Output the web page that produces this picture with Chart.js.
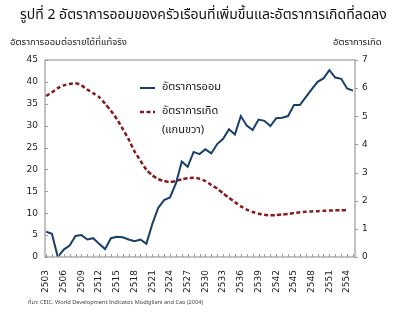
<!DOCTYPE html>
<html>
<head>
<meta charset="utf-8">
<script src="https://cdn.jsdelivr.net/npm/chart.js@4.4.0/dist/chart.umd.min.js"></script>
<style>
  body { margin: 0; background: #fff; font-family: "Noto Sans Thai", Tahoma, "DejaVu Sans", sans-serif; }
  #wrap { position: relative; width: 411px; height: 332px; overflow: hidden; }
  #title { position: absolute; left: 20px; top: 4px; font-size: 14px; color: #111; white-space: nowrap; }
  .cap { position: absolute; top: 35px; font-size: 9.5px; color: #222; white-space: nowrap; }
  #source { position: absolute; left: 28px; top: 298px; font-size: 5.6px; color: #444; white-space: nowrap; }
  canvas { position: absolute; left: 0; top: 0; }
</style>
</head>
<body>
<div id="wrap">
  <canvas id="savingBox" width="411" height="332"></canvas>
  <div id="title">รูปที่ 2 อัตราการออมของครัวเรือนที่เพิ่มขึ้นและอัตราการเกิดที่ลดลง</div>
  <div class="cap" style="left:10px">อัตราการออมต่อรายได้ที่แท้จริง</div>
  <div class="cap" style="left:333px">อัตราการเกิด</div>
  <div id="source">ที่มา: CEIC, World Development Indicator, Modigliani and Cao (2004)</div>
</div>
<script>
var years = [2503, 2504, 2505, 2506, 2507, 2508, 2509, 2510, 2511, 2512,
  2513, 2514, 2515, 2516, 2517, 2518, 2519, 2520, 2521, 2522,
  2523, 2524, 2525, 2526, 2527, 2528, 2529, 2530, 2531, 2532,
  2533, 2534, 2535, 2536, 2537, 2538, 2539, 2540, 2541, 2542,
  2543, 2544, 2545, 2546, 2547, 2548, 2549, 2550, 2551, 2552,
  2553, 2554, 2555];

// อัตราการออมต่อรายได้ (แกนซ้าย)
var saving = [5.8, 5.3, 0, 1.7, 2.6, 4.8, 5.0, 4.0, 4.3, 3.0,
  1.8, 4.3, 4.6, 4.5, 4.0, 3.6, 4.0, 3.0, 7.5, 11.2,
  13.0, 13.6, 16.8, 21.8, 20.6, 24.0, 23.5, 24.6, 23.7, 25.8,
  27.0, 29.2, 28.0, 32.2, 30.0, 29.0, 31.4, 31.1, 29.9, 31.7,
  31.8, 32.2, 34.7, 34.7, 36.5, 38.3, 40.0, 40.8, 42.7, 41.0,
  40.7, 38.5, 38.0];

// อัตราการเกิด (แกนขวา)
var birth = [5.72, 5.85, 6.0, 6.1, 6.15, 6.17, 6.1, 5.95, 5.82, 5.68,
  5.45, 5.2, 4.9, 4.55, 4.18, 3.75, 3.42, 3.1, 2.9, 2.77,
  2.7, 2.66, 2.7, 2.76, 2.8, 2.82, 2.78, 2.7, 2.56, 2.43,
  2.26, 2.1, 1.95, 1.8, 1.68, 1.6, 1.54, 1.5, 1.48, 1.49,
  1.51, 1.53, 1.56, 1.59, 1.61, 1.62, 1.63, 1.64, 1.65, 1.66,
  1.66, 1.67, null];

var legendNames = ['อัตราการออม', 'อัตราการเกิด', '(แกนขวา)'];

var leftTicks = { min: 0, max: 45, step: 5 };
var rightTicks = { min: 0, max: 7, step: 1 };
var yearLabelEvery = 3;

var thaiFont = '"Noto Sans Thai", Tahoma, "DejaVu Sans", sans-serif';
var tickFont = { family: 'DejaVu Sans', size: 9 };

// กรอบพื้นที่กราฟ + ขีดสเกลเล็กๆ
var framePlugin = {
  id: 'frame',
  afterDatasetsDraw: function(chart) {
    var c = chart.ctx, a = chart.chartArea;
    var x = chart.scales.x, yl = chart.scales.y, yr = chart.scales.y1;
    c.save();
    c.strokeStyle = '#9a9a9a';
    c.lineWidth = 1.2;
    c.strokeRect(a.left - 1, a.top, a.right - a.left + 3, a.bottom - a.top);
    c.lineWidth = 1;
    c.beginPath();
    years.forEach(function(y, i) {
      var px = Math.round(x.getPixelForValue(i)) + 0.5;
      c.moveTo(px, a.bottom);
      c.lineTo(px, a.bottom - 3);
    });
    yl.ticks.forEach(function(t) {
      var py = Math.round(yl.getPixelForValue(t.value)) + 0.5;
      c.moveTo(a.left - 1, py);
      c.lineTo(a.left + 2, py);
    });
    yr.ticks.forEach(function(t) {
      var py = Math.round(yr.getPixelForValue(t.value)) + 0.5;
      c.moveTo(a.right + 2, py);
      c.lineTo(a.right + 5, py);
    });
    c.stroke();
    c.restore();
  }
};

// คำอธิบายสัญลักษณ์ วางไว้ในกราฟ
var legendPlugin = {
  id: 'innerLegend',
  afterDraw: function(chart) {
    var c = chart.ctx;
    var ds = chart.data.datasets;
    var lx = 140, ly = 88;
    c.save();
    c.font = '11px ' + thaiFont;
    c.fillStyle = '#111';
    c.textBaseline = 'middle';
    [0, 1].forEach(function(k) {
      var yy = ly + k * 24;
      c.strokeStyle = ds[k].borderColor;
      c.lineWidth = ds[k].borderWidth;
      c.setLineDash(ds[k].borderDash || []);
      c.beginPath();
      c.moveTo(lx, yy);
      c.lineTo(lx + 15, yy);
      c.stroke();
      c.fillText(legendNames[k], lx + 22, yy);
    });
    c.fillText(legendNames[2], lx + 22, ly + 43);
    c.restore();
  }
};

function drawSavingChart(ctx) {
  return new Chart(ctx, {
    type: 'line',
    data: {
      labels: years,
      datasets: [{
        label: legendNames[0],
        data: saving,
        yAxisID: 'y',
        borderColor: '#173f6b',
        borderWidth: 2,
        pointRadius: 0,
        tension: 0
      }, {
        label: legendNames[1] + ' ' + legendNames[2],
        data: birth,
        yAxisID: 'y1',
        borderColor: '#861a1d',
        borderWidth: 2.5,
        borderDash: [4, 2.5],
        pointRadius: 0,
        tension: 0.2
      }]
    },
    options: {
      responsive: false,
      animation: false,
      layout: { padding: { top: 60 } },
      plugins: { legend: { display: false }, tooltip: { enabled: false } },
      scales: {
        x: {
          offset: false,
          grid: { display: false, drawTicks: false },
          border: { display: false },
          ticks: {
            autoSkip: false, maxRotation: 90, minRotation: 90, padding: 13,
            color: '#222', font: tickFont,
            // ปี พ.ศ. แสดงทุกๆ 3 ปี
            callback: function(v, i) { return i % yearLabelEvery === 0 ? this.getLabelForValue(v) : ''; }
          },
          afterFit: function(s) { s.height = 75; }
        },
        y: {
          position: 'left',
          min: leftTicks.min, max: leftTicks.max,
          grid: { display: false, drawTicks: false },
          border: { display: false },
          ticks: { stepSize: leftTicks.step, padding: 8, color: '#222', font: tickFont },
          afterFit: function(s) { s.width = 46; }
        },
        y1: {
          position: 'right',
          min: rightTicks.min, max: rightTicks.max,
          grid: { display: false, drawTicks: false },
          border: { display: false },
          ticks: { stepSize: rightTicks.step, padding: 9, color: '#222', font: tickFont },
          afterFit: function(s) { s.width = 58; }
        }
      }
    },
    plugins: [framePlugin, legendPlugin]
  });
}

drawSavingChart(document.getElementById('savingBox'));
</script>
</body>
</html>
